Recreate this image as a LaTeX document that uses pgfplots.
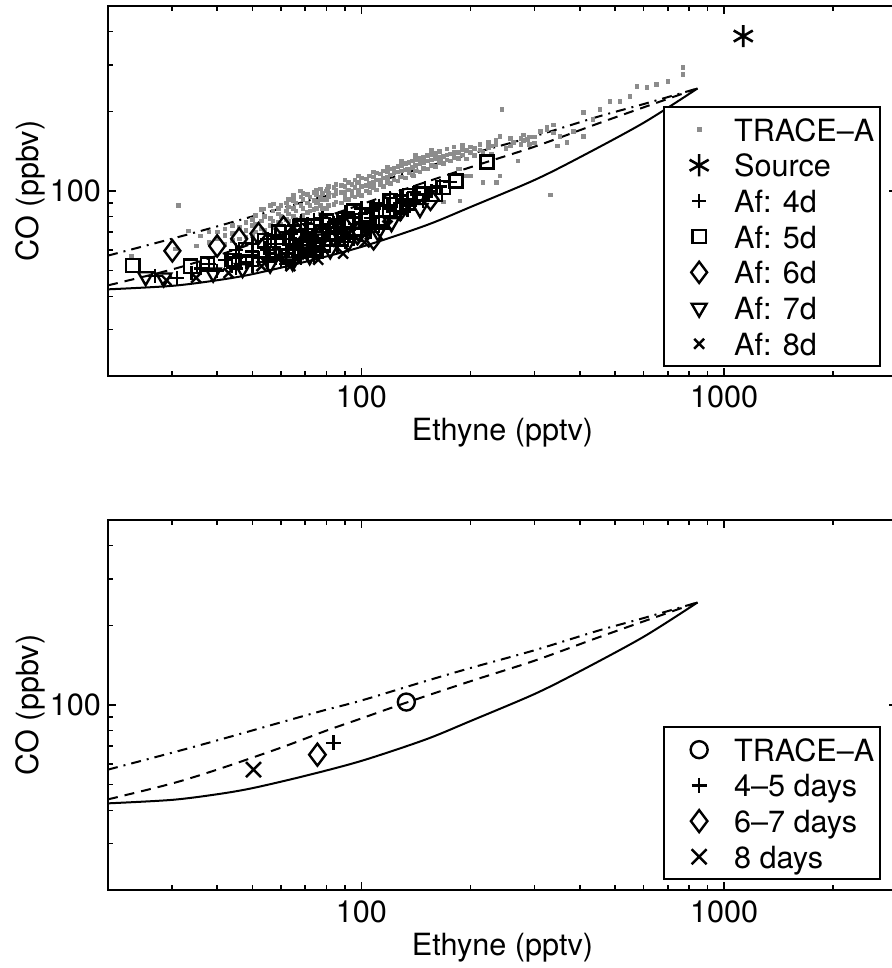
\documentclass[border=0pt]{standalone}
\usepackage{pgfplots}
\pgfplotsset{compat=1.18}
\usepackage{pgfplotstable}
\usepackage{fontspec}
\setmainfont{TeX Gyre Heros}
\definecolor{tgray}{RGB}{140,140,140}

\pgfplotstableread{
x y
20 42.5
30 43.8
40 46
50 48.5
70 54
100 61.5
150 74
200 87
300 110
400 134
600 181
845 244
}\solidtab
\pgfplotstableread{
x y
20 44
30 50.5
40 57
60 69
80 80
100 89
130 101
200 123
300 147
450 180
600 207
845 244
}\dashtab
\pgfplotstableread{
x y
20 57
30 66
40 73.5
60 86
80 96
100 104
150 123
200 138
300 161
450 191
600 213
845 244
}\dashdottab

\newcommand{\lblfont}{\fontsize{15.3}{17}\selectfont}

\pgfplotsset{
  myax/.style={
    scale only axis,
    width=394.5pt, height=185pt,
    xmin=20, xmax=3000, ymin=20, ymax=500,
    xtick={100,1000}, xticklabels={100,1000},
    ytick={100}, yticklabels={100},
    minor xtick={20,30,40,50,60,70,80,90,200,300,400,500,600,700,800,900,2000,3000},
    minor ytick={20,30,40,50,60,70,80,90,200,300,400,500},
    major tick length=4pt, minor tick length=2.5pt,
    every tick/.style={black, line width=0.8pt},
    axis line style={line width=1pt},
    /pgf/number format/assume math mode=true,
    tick label style={font=\lblfont},
    xticklabel style={anchor=base, yshift=-16pt},
    label style={font=\lblfont},
    xlabel={Ethyne (pptv)}, ylabel={CO (ppbv)},
    xlabel style={at={(axis description cs:0.5,0)}, anchor=base, yshift=-32.5pt},
    ylabel style={at={(axis description cs:-0.0989,0.5)}, anchor=center},
    legend cell align=left,
    legend image code/.code={\path[draw=none,fill=none] (0pt,-1pt) rectangle (26pt,1pt); \draw[##1] plot coordinates {(15.5pt,0pt)};},
    legend style={anchor=south east, draw=black, line width=0.8pt, fill=white,
      font=\lblfont, inner xsep=2pt, inner ysep=2.3pt, row sep=0pt, column sep=6pt,
      nodes={inner sep=1pt, text height=13.7pt, text depth=2.15pt}},
  },
  curve/.style={black, line width=1pt, no marks, smooth, forget plot},
  blk/.style={black, only marks, line width=1.2pt, mark options={solid}},
}

\begin{document}
\begin{tikzpicture}
% ================= upper panel =================
\begin{loglogaxis}[myax, at={(0pt,0pt)},
  legend style={at={(axis description cs:0.9797,0.0243)}}]
\addplot[curve] table[x=x,y=y] {\solidtab};
\addplot[curve, dash pattern=on 5pt off 3.5pt] table[x=x,y=y] {\dashtab};
\addplot[curve, dash pattern=on 5pt off 3pt on 1pt off 3pt] table[x=x,y=y] {\dashdottab};
% TRACE-A
\addplot[only marks, mark=square*, mark size=0.9pt, color=tgray, mark options={draw=tgray, fill=tgray}] coordinates {
(23.2,56.5)(30.7,60.5)(31.3,88)(33.3,70.7)(36,67.7)(35,62)(38,64)(38,70)
(42,63)(42,68)(42,72)(46,66)(46,73)(50,68)(50,74)(50,78)(53,72)(53,77)(53,85)
(56,74)(56,79)(56,88)(59,76)(59,82)(59,86)(62,78)(62,84)(62,90)
(65,80)(65,86)(65,92)(65,96)(68,79)(68,88)(68,95)(68,100)(71,83)(71,90)(71,97)
(74,85)(74,92)(74,99)(77,82)(77,88)(77,95)(77,102)(80,86)(80,93)(80,100)
(84,89)(84,96)(84,103)(88,90)(88,99)(88,105)(92,93)(92,101)(92,108)
(96,95)(96,103)(96,110)(100,96)(100,104)(100,112)(105,99)(105,107)(105,114)
(110,101)(110,110)(110,117)(115,104)(115,112)(115,119)(120,107)(120,115)(120,121)
(126,109)(126,118)(126,124)(132,112)(132,120)(132,127)(138,115)(138,123)(138,130)
(145,118)(145,127)(145,133)(152,121)(152,130)(152,136)(160,124)(160,133)(160,139)
(168,127)(168,135)(168,91)(176,130)(176,138)(185,121)(185,133)(185,140)
(195,114)(195,132)(195,142)(205,136)(205,145)(216,108)(216,140)(228,138)(228,148)
(241,114)(241,161)(236,108)(250,145)(244,203)(262,153)(270,130)(275,150)(275,158)
(287,157)(300,160)(300,152)(311,168)(325,171)(325,174)(332,96.6)(338,166)(338,178)
(347,148)(353,161)(369,153)(384,168)(409,161)(409,198)(435,186)(455,203)
(485,218)(516,218)(550,228)(575,248)(612,246)(651,253)(700,259)(771,276)(771,293)
(57.2,89.4)(67.9,100)(75.7,91.7)(89.2,99)(97.5,108)(105.9,103.6)(118,111)(128,113)(139,114)
(53.7,85.6)(56,78.5)(80.6,101.7)(134,121)(145,128.6)(165,132)(187,121)(200,114)(187,91.7)
(40,66)(40,70)(44,65)(44,69)(44,74)(48,67)(48,71)(48,76)(51,70)(51,75)(51,81)(54,71)(54,80)
(57,73)(57,77)(57,84)(60,75)(60,80)(60,88)(63,77)(63,82)(63,87)(63,93)(66,78)(66,84)(66,90)
(69,81)(69,86)(69,93)(69,98)(72,84)(72,88)(72,95)(75,86)(75,90)(75,97)(75,101)(78,86)(78,93)(78,98)
(81,88)(81,95)(81,98)(81,104)(85,91)(85,98)(85,101)(85,106)(90,93)(90,97)(90,104)(90,110)
(94,96)(94,100)(94,106)(98,97)(98,101)(98,108)(98,114)(103,100)(103,105)(103,111)
(108,103)(108,108)(108,113)(108,118)(113,106)(113,110)(113,116)(118,108)(118,113)(118,118)(118,123)
(123,110)(123,117)(123,122)(129,113)(129,119)(129,125)(129,130)(135,117)(135,121)(135,128)
(141,119)(141,125)(141,131)(141,136)(148,122)(148,128)(148,134)(156,125)(156,131)(156,137)(156,142)
(164,128)(164,134)(164,141)(172,131)(172,137)(172,144)(180,134)(180,140)(180,147)(190,137)(190,143)(190,149)
(200,140)(200,147)(212,143)(212,150)(224,146)(224,153)(235,150)(235,156)(258,148)(258,158)(280,155)(280,163)(290,150)(290,160)
};
\addlegendentry{TRACE--A}
% Source
\addplot[blk, mark=asterisk, mark size=5.5pt, line width=1.3pt] coordinates {(1130,385)};
\addlegendentry{Source}
% Af: 4d
\addplot[blk, mark=+, mark size=3.5pt] coordinates {
(27,47.8)(31,47)(34,49)(36,51)(38,53)(40,50)(42,55)(44,52)(46,57)(48,54)(50,59)(52,56)
(54,61)(56,58)(58,63)(60,55)(61,66)(63,60)(64,69)(66,63)(67,57)(69,66)(70,72)(72,61)
(73,68)(75,64)(77,74)(78,59)(80,70)(82,66)(84,76)(86,62)(88,72)(90,80)(93,68)(96,75)
(100,82)(104,72)(108,86)(112,80)(118,88)(124,84)(130,92)(136,88)(142,97)(148,92)
(156,100)(165,104)(175,108)
(45,51)(45,56)(45,60)(50,52)(50,57)(50,63)(55,54)(55,60)(55,66)(58,56)(58,68)
(62,53)(62,58)(62,63)(62,70)(65,55)(65,61)(65,66)(65,74)(68,56)(68,60)(68,65)(68,71)(68,77)
(71,58)(71,64)(71,69)(71,75)(74,57)(74,62)(74,70)(74,78)(78,60)(78,65)(78,72)(78,79)
(82,62)(82,69)(82,75)(86,65)(86,70)(86,78)(90,64)(90,67)(90,73)(90,83)(95,66)(95,72)(95,79)
(100,68)(100,75)(100,86)(106,70)(106,79)(106,84)(112,74)(112,88)(120,80)(120,86)(120,94)
(128,82)(128,90)(128,96)(134,85)(134,93)(140,90)(140,99)(150,97)(150,103)
};
\addlegendentry{Af: 4d}
% Af: 5d
\addplot[blk, mark=square, mark size=3.3pt] coordinates {
(23.4,52.3)(33.8,52)(37.6,53)(44.5,54.5)(48,60)(54,65)(59,70)(63,57)(68,74)(74,60)
(80,77)(88,66)(95,84)(103,78)(120,92)(136,96)(160,97)(182,109)(222,128.6)
(57,58)(66,66)(70,62)(78,70)(85,73)(92,77)(99,72)(110,85)(114,76)(130,88)(145,98)(168,103)
};
\addlegendentry{Af: 5d}
% Af: 6d
\addplot[blk, mark=diamond, mark size=5.3pt] coordinates {
(30.1,59.4)(40,62)(46,66)(52,69)(61,73)(71,63)(84,68)(97.5,69)(108,66)(128,85)(155,93)
(66,70)(76,66)(90,73)
};
\addlegendentry{Af: 6d}
% Af: 7d
\addplot[blk, mark=triangle, mark size=4.3pt, mark options={rotate=180}] coordinates {
(25.4,47.5)(28.5,47)(39,49)(47,51)(56,53)(64.6,54)(72,57)(82,60)(92,64)(111,70)(121,76)(145,86)
(60,58)(69,60)(78,66)(87,68)(98,70)(104,74)
};
\addlegendentry{Af: 7d}
% Af: 8d
\addplot[blk, mark=x, mark size=3.5pt] coordinates {
(29,46)(35,47)(43,49)(53,52)(63.7,52)(76,55)(89,58)(102,64)(118,74)
};
\addlegendentry{Af: 8d}
\end{loglogaxis}

% ================= lower panel =================
\begin{loglogaxis}[myax, at={(0pt,-257pt)},
  legend style={at={(axis description cs:0.9797,0.027)}}]
\addplot[curve] table[x=x,y=y] {\solidtab};
\addplot[curve, dash pattern=on 5pt off 3.5pt] table[x=x,y=y] {\dashtab};
\addplot[curve, dash pattern=on 5pt off 3pt on 1pt off 3pt] table[x=x,y=y] {\dashdottab};
\addplot[blk, mark=o, mark size=4.25pt] coordinates {(133,102.6)};
\addlegendentry{TRACE--A}
\addplot[blk, mark=+, mark size=3.75pt] coordinates {(83.7,71.9)};
\addlegendentry{4--5 days}
\addplot[blk, mark=diamond, mark size=5.5pt] coordinates {(75.6,64.9)};
\addlegendentry{6--7 days}
\addplot[blk, mark=x, mark size=5.3pt] coordinates {(50.4,57.0)};
\addlegendentry{8 days}
\end{loglogaxis}

\pgfresetboundingbox
\path[use as bounding box] (-54pt,-296pt) rectangle (391.5pt,188pt);
\end{tikzpicture}
\end{document}
